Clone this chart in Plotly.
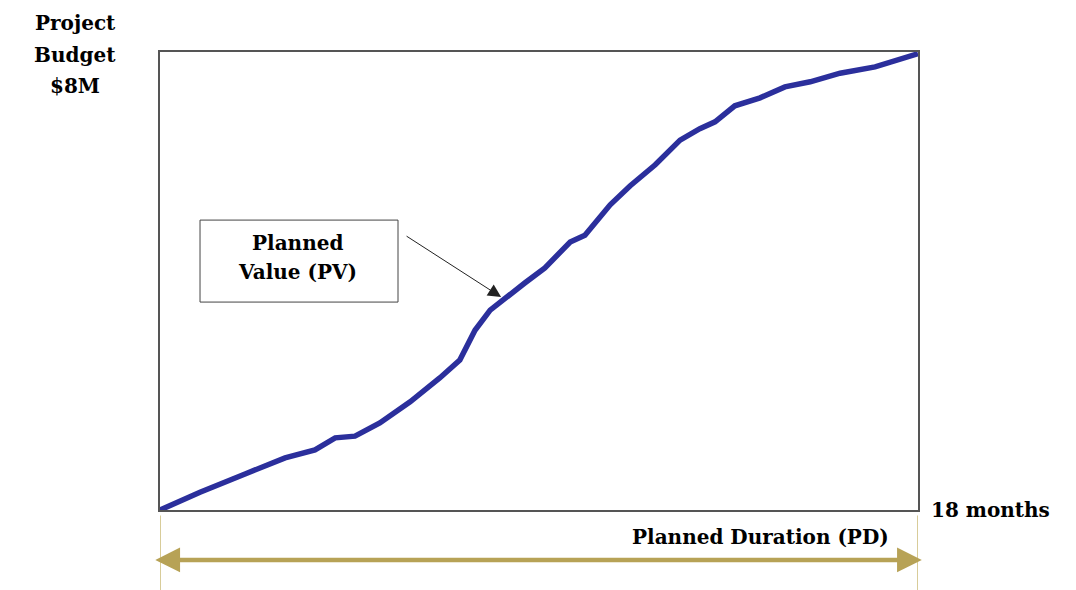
import plotly.graph_objects as go

# Planned Value S-curve (months vs $M)
months = [0, 0.95, 2.02, 2.97, 3.68, 4.16, 4.63, 5.22, 5.94, 6.65, 7.12, 7.48, 7.84,
          8.19, 8.67, 9.14, 9.74, 10.09, 10.69, 11.16, 11.76, 12.35, 12.82, 13.18,
          13.65, 14.25, 14.84, 15.44, 16.15, 16.98, 17.93, 18.0]
planned_value = [0, 0.31, 0.63, 0.91, 1.05, 1.26, 1.29, 1.52, 1.89, 2.31, 2.62, 3.14, 3.49,
                 3.70, 3.97, 4.23, 4.68, 4.80, 5.33, 5.66, 6.03, 6.46, 6.66, 6.78,
                 7.06, 7.20, 7.39, 7.48, 7.63, 7.74, 7.95, 7.97]

budget_lines = ["Project", "Budget", "$8M"]
duration_label = "18 months"
pd_label = "Planned Duration (PD)"
pv_lines = ["Planned", "Value (PV)"]

SERIF = "DejaVu Serif, Liberation Serif, serif"
GOLD = "#B7A256"

fig = go.Figure()
fig.add_trace(go.Scatter(
    x=months, y=planned_value, mode="lines",
    line=dict(color="#2B2F9C", width=5.5),
    hoverinfo="skip", showlegend=False,
))

fig.update_xaxes(range=[0, 18], showgrid=False, zeroline=False, showticklabels=False,
                 ticks="", showline=True, linecolor="#555555", linewidth=1.5, mirror=True)
fig.update_yaxes(range=[0, 8], showgrid=False, zeroline=False, showticklabels=False,
                 ticks="", showline=True, linecolor="#555555", linewidth=1.5, mirror=True)

# Budget label (one annotation per line for wider line spacing)
for yv, line in zip([1.064, 0.993, 0.926], budget_lines):
    fig.add_annotation(xref="paper", yref="paper", x=-0.112, y=yv, xanchor="center", yanchor="middle",
                       text=f"<b>{line}</b>", showarrow=False,
                       font=dict(family=SERIF, size=20, color="black"))
fig.add_annotation(xref="paper", yref="paper", x=1.014, y=0.0, xanchor="left", yanchor="middle",
                   text=f"<b>{duration_label}</b>", showarrow=False,
                   font=dict(family=SERIF, size=20, color="black"))
fig.add_annotation(xref="paper", yref="paper", x=0.965, y=-0.059, xanchor="right", yanchor="middle",
                   text=f"<b>{pd_label}</b>", showarrow=False,
                   font=dict(family=SERIF, size=20, color="black"))

# PV box
fig.add_shape(type="rect", xref="paper", yref="paper", x0=0.0528, x1=0.314, y0=0.454, y1=0.633,
              line=dict(color="#444444", width=1), fillcolor="white")
for yv, line in zip([0.583, 0.520], pv_lines):
    fig.add_annotation(xref="paper", yref="paper", x=0.181, y=yv, xanchor="center", yanchor="middle",
                       text=f"<b>{line}</b>", showarrow=False,
                       font=dict(family=SERIF, size=20, color="black"))
# PV pointer arrow
fig.add_annotation(xref="x", yref="y", axref="x", ayref="y",
                   x=8.1, y=3.72, ax=5.82, ay=4.80, text="", showarrow=True,
                   arrowhead=2, arrowsize=2.6, arrowwidth=1, arrowcolor="#222222")

# Gold double arrow for planned duration
fig.add_annotation(xref="paper", yref="paper",
                   x=1.005, y=-0.109, ax=-768, ay=0, text="", showarrow=True,
                   arrowhead=2, startarrowhead=2, arrowside="end+start",
                   arrowsize=1.1, startarrowsize=1.1, arrowwidth=4.5, arrowcolor=GOLD)
# Gold vertical marker lines
for xv in [0, 18]:
    fig.add_shape(type="line", xref="x", yref="paper", x0=xv, x1=xv, y0=-0.012, y1=-0.2,
                  line=dict(color="#D8CC99", width=2))

fig.update_layout(
    width=1076, height=590,
    margin=dict(l=152, r=166, t=44, b=88),
    plot_bgcolor="white", paper_bgcolor="white",
    showlegend=False,
)

fig.write_html("out.html")
